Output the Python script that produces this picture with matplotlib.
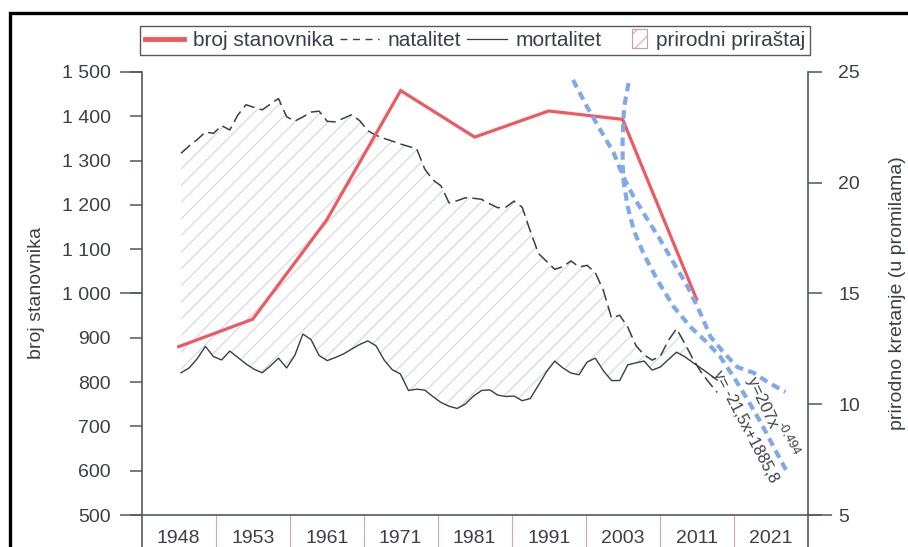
import numpy as np
import matplotlib
matplotlib.use('Agg')
import matplotlib.pyplot as plt
import matplotlib.patches as mpatches
from matplotlib.lines import Line2D
from matplotlib.legend_handler import HandlerPatch

plt.rcParams['font.family'] = ['Liberation Sans', 'DejaVu Sans']
plt.rcParams['hatch.linewidth'] = 0.7

# -------------------------------------------------------------------------------------
# Data
census_years = ['1948', '1953', '1961', '1971', '1981', '1991', '2003', '2011', '2021']
population = [880, 942, 1166, 1458, 1353, 1412, 1393, 987]

vital_years = list(range(1948, 2015))
natalitet = [21.33, 21.66, 21.95, 22.29, 22.23, 22.58, 22.38, 23.06, 23.52, 23.40,
             23.29, 23.55, 23.80, 22.98, 22.78, 22.97, 23.19, 23.23, 22.77, 22.75,
             22.91, 23.07, 22.80, 22.35, 22.14, 22.00, 21.88, 21.75, 21.64, 21.54,
             20.62, 20.13, 19.86, 19.09, 19.19, 19.32, 19.30, 19.25, 19.05, 18.87,
             18.90, 19.17, 18.89, 17.81, 16.81, 16.45, 16.09, 16.21, 16.47, 16.20,
             16.27, 15.94, 15.13, 13.89, 14.02, 13.48, 12.65, 12.23, 11.99, 12.17,
             12.88, 13.41, 12.75, 12.06, 11.46, 10.98, 10.53]
mortalitet = [11.42, 11.64, 12.06, 12.61, 12.15, 12.00, 12.40, 12.11, 11.82, 11.58,
              11.42, 11.73, 12.08, 11.64, 12.20, 13.17, 12.92, 12.20, 11.97, 12.11,
              12.27, 12.49, 12.70, 12.86, 12.64, 12.00, 11.56, 11.37, 10.62, 10.68,
              10.64, 10.35, 10.08, 9.91, 9.81, 10.01, 10.37, 10.62, 10.65, 10.41,
              10.35, 10.37, 10.16, 10.26, 10.86, 11.47, 11.95, 11.64, 11.41, 11.33,
              11.91, 12.08, 11.51, 11.07, 11.07, 11.78, 11.87, 11.95, 11.54, 11.68,
              12.02, 12.35, 12.15, 11.88, 11.63, 11.37, 11.09]

# Trend curves (category position, population)
trend_pow_pos = [5.33, 5.52, 5.70, 5.88, 6.01, 6.15, 6.34, 6.51, 6.69, 6.88,
                 7.05, 7.19, 7.37, 7.55, 7.77, 7.96, 8.20]
trend_pow_val = [1482, 1421, 1369, 1317, 1263, 1218, 1166, 1121, 1069, 1015,
                 956, 902, 866, 834, 821, 800, 778]
trend_lin_pos = [6.08, 6.02, 6.00, 6.00, 6.01, 6.07, 6.15, 6.28, 6.47, 6.69,
                 6.92, 7.15, 7.32, 7.50, 7.69, 7.87, 8.04, 8.23]
trend_lin_val = [1475, 1421, 1353, 1295, 1256, 1195, 1143, 1091, 1030, 970,
                 924, 888, 857, 812, 760, 708, 654, 595]

# -------------------------------------------------------------------------------------
# Style
c_red = '#ef5a60'
c_dark = '#3a3e48'
c_axis = '#505766'
c_text = '#3a3f4a'
c_blue = '#7fa9ec'
c_hatch = '#ccd0e2'

fig = plt.figure(figsize=(9.08, 5.47), dpi=100)
ax = fig.add_axes([0.1561, 0.0585, 0.7333, 0.8099])
ax2 = ax.twinx()
ax.set_zorder(ax2.get_zorder() + 1)
ax.patch.set_visible(False)

# yearly series stretched over the category axis as in the original
a1dYear = np.array(vital_years)
a1dX = 0.031 + (a1dYear - vital_years[0]) * 0.1098
a1dNat = np.array(natalitet)
a1dMor = np.array(mortalitet)

ax2.fill_between(a1dX, a1dNat, a1dMor, where=a1dNat >= a1dMor, interpolate=True,
                 facecolor='none', edgecolor=c_hatch, hatch='//', linewidth=0)
ax2.plot(a1dX, a1dNat, color=c_dark, lw=1.1, linestyle=(0, (8, 3.5)))
ax2.plot(a1dX, a1dMor, color=c_dark, lw=1.0)

ax.plot(range(len(population)), population, color=c_red, lw=2.3, solid_joinstyle='miter')
ax.plot(trend_pow_pos, trend_pow_val, color=c_blue, lw=3, linestyle=(0, (2, 1.3)))
ax.plot(trend_lin_pos, trend_lin_val, color=c_blue, lw=3, linestyle=(0, (2, 1.3)))

ax.text(7.89, 753, 'y=207x', rotation=-65, rotation_mode='anchor', ha='center', va='center',
        fontsize=12, color=c_text)
ax.text(8.25, 672, '-0,494', rotation=-62, rotation_mode='anchor', ha='center', va='center',
        fontsize=9, color=c_text)
ax.text(7.66, 699, 'y= -21,5x+1885,8', rotation=-62.4, rotation_mode='anchor', ha='center',
        va='center', fontsize=11.5, color=c_text)

# -------------------------------------------------------------------------------------
# Axes
ax.set_xlim(-0.5, 8.5)
ax.set_ylim(500, 1500)
ax2.set_ylim(5, 25)

for sSide in ['top', 'right']:
    ax.spines[sSide].set_visible(False)
for sSide in ['top', 'left', 'bottom']:
    ax2.spines[sSide].set_visible(False)
for oSp in [ax.spines['left'], ax.spines['bottom'], ax2.spines['right']]:
    oSp.set_color(c_axis)
    oSp.set_linewidth(1.2)

a1iTicks = list(range(500, 1501, 100))
ax.set_yticks(a1iTicks)
ax.set_yticklabels(['{:,}'.format(v).replace(',', ' ') for v in a1iTicks])
ax.yaxis.remove_overlapping_locs = False
ax.set_yticks([500, 1000, 1500], minor=True)
ax.tick_params(axis='y', which='major', length=8.6, width=1.1, color=c_axis, pad=13.5,
               labelsize=14, labelcolor=c_text)
ax.tick_params(axis='y', which='minor', length=15.8, width=1.1, color=c_axis)

ax2.set_yticks([5, 10, 15, 20, 25])
ax2.yaxis.remove_overlapping_locs = False
ax2.set_yticks([5], minor=True)
ax2.tick_params(axis='y', which='major', length=10, width=1.1, color=c_axis, pad=12,
                labelsize=14, labelcolor=c_text)
ax2.tick_params(axis='y', which='minor', length=17.5, width=1.1, color=c_axis)

ax.set_xticks(range(len(census_years)))
ax.set_xticklabels(census_years)
ax.set_xticks(np.arange(0.5, 8, 1), minor=True)
ax.tick_params(axis='x', which='major', length=0, pad=10.5, labelsize=14, labelcolor=c_text)
ax.tick_params(axis='x', which='minor', length=30, width=0.8, color='#dba3ab')

for dX in [0, 1]:
    ax.add_line(Line2D([dX, dX], [0, -0.12], transform=ax.transAxes, color=c_axis,
                       lw=1.2, clip_on=False))

ax.set_ylabel('broj stanovnika', fontsize=14, color=c_text)
ax.yaxis.set_label_coords(-0.1452, 0.5)
ax2.set_ylabel('prirodno kretanje (u promilama)', fontsize=14, color=c_text)
ax2.yaxis.set_label_coords(1.1224, 0.5)

# -------------------------------------------------------------------------------------
# Legend
def narrowBox(legend, orig_handle, xdescent, ydescent, width, height, fontsize):
    dW = height * 1.05
    return mpatches.Rectangle((-xdescent + width - dW, -ydescent - 0.15 * height),
                              dW, height * 1.3)


h_pop = Line2D([], [], color=c_red, lw=3.5)
h_nat = Line2D([], [], color=c_dark, lw=1.0, linestyle=(0, (5, 4)))
h_mor = Line2D([], [], color=c_dark, lw=0.9)
h_fill = mpatches.Patch(facecolor='none', edgecolor='#d69aa3', hatch='//', lw=0.8)

oLeg = fig.legend([h_pop, h_nat, h_mor, h_fill],
                  ['broj stanovnika', 'natalitet', 'mortalitet', 'prirodni priraštaj'],
                  ncol=4, fontsize=15, handlelength=1.9, handletextpad=0.4,
                  columnspacing=0.3, borderpad=0.25, fancybox=False, framealpha=1,
                  edgecolor='#5a5a5a', loc='center', bbox_to_anchor=(0.5229, 0.926),
                  handler_map={mpatches.Patch: HandlerPatch(patch_func=narrowBox)})
oLeg.get_frame().set_linewidth(1.0)
for oTxt in oLeg.get_texts():
    oTxt.set_color(c_text)

# Frame of the scanned page
fig.add_artist(Line2D([9.5 / 908, 9.5 / 908, 1.0], [0.0, 1 - 12.5 / 547, 1 - 12.5 / 547],
                      transform=fig.transFigure, color='black', lw=2.4,
                      solid_joinstyle='miter'))

fig.savefig('out.png', dpi=100)
